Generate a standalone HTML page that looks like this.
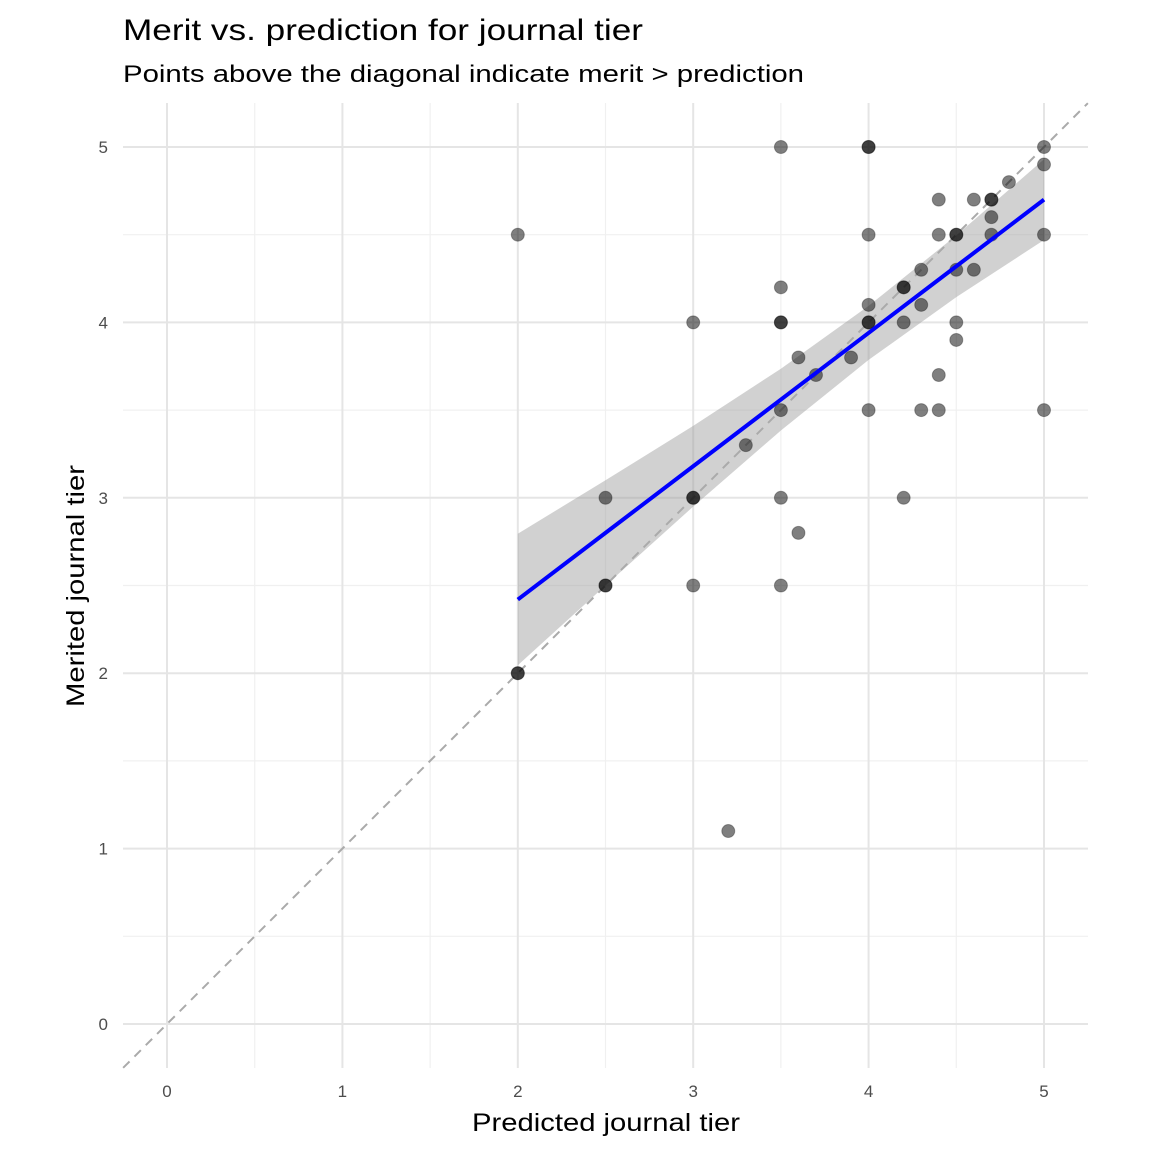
<!DOCTYPE html>
<html><head><meta charset="utf-8"><style>
body{margin:0;background:#fff;}
svg text{font-family:"Liberation Sans",Arial,sans-serif;}
</style></head><body>
<svg id="chart" width="1152" height="1152" xmlns="http://www.w3.org/2000/svg">
<rect width="1152" height="1152" fill="#fff"/>
<text x="123" y="40" font-size="30" fill="#000" textLength="520" lengthAdjust="spacingAndGlyphs">Merit vs. prediction for journal tier</text>
<text x="123" y="82" font-size="24" fill="#000" textLength="681" lengthAdjust="spacingAndGlyphs">Points above the diagonal indicate merit &gt; prediction</text>
<g id="grid"></g><g id="band"></g><g id="diag"></g><g id="pts"></g><g id="fit"></g><g id="ticks"></g>
<text x="472" y="1131" font-size="25" fill="#000" textLength="268" lengthAdjust="spacingAndGlyphs">Predicted journal tier</text>
<text transform="translate(84,707) rotate(-90)" font-size="25" fill="#000" textLength="242" lengthAdjust="spacingAndGlyphs">Merited journal tier</text>
</svg>
<script>
const predicted=[2,2,2,2.5,2.5,2.5,3,3,3,3,3.2,3.3,3.5,3.5,3.5,3.5,3.5,3.5,3.5,3.6,3.6,3.7,3.9,4,4,4,4,4,4,4,4.2,4.2,4.2,4.2,4.3,4.3,4.3,4.4,4.4,4.4,4.4,4.5,4.5,4.5,4.5,4.5,4.6,4.6,4.7,4.7,4.7,4.7,4.8,5,5,5,5];
const merited=[4.5,2,2,3,2.5,2.5,4,3,3,2.5,1.1,3.3,5,4.2,4,4,3.5,3,2.5,3.8,2.8,3.7,3.8,5,5,4.5,4.1,4,4,3.5,4.2,4.2,4,3,4.3,4.1,3.5,4.7,4.5,3.7,3.5,4.5,4.5,4.3,4,3.9,4.7,4.3,4.7,4.7,4.6,4.5,4.8,5,4.9,4.5,3.5];
const fitX=[2,2.5,3,3.5,4,4.5,5];
const fitY=[2.42,2.80,3.18,3.56,3.94,4.32,4.70];
const bandLo=[2.045,2.50,2.95,3.384,3.786,4.144,4.47];
const bandHi=[2.795,3.10,3.41,3.736,4.094,4.496,4.93];
const ticks=[0,1,2,3,4,5];
const ticksLabels=["0","1","2","3","4","5"];
const minor=[0.5,1.5,2.5,3.5,4.5];
const NS="http://www.w3.org/2000/svg";
const sx=v=>167+v*175.4, sy=v=>1024-v*175.4;
const L=123,R=1088,T=103,B=1068;
function mk(tag,attrs,parent){const e=document.createElementNS(NS,tag);for(const k in attrs)e.setAttribute(k,attrs[k]);document.getElementById(parent).appendChild(e);return e;}
minor.forEach(v=>{
 let a=mk('line',{x1:sx(v),x2:sx(v),y1:T,y2:B,stroke:'#f0f0f0','stroke-width':1.2},'grid');
 
 let b=mk('line',{x1:L,x2:R,y1:sy(v),y2:sy(v),stroke:'#f0f0f0','stroke-width':1.2},'grid');
 
});
ticks.forEach((v,i)=>{
 let a=mk('line',{x1:sx(v),x2:sx(v),y1:T,y2:B,stroke:'#e5e5e5','stroke-width':2},'grid');
 
 let b=mk('line',{x1:L,x2:R,y1:sy(v),y2:sy(v),stroke:'#e5e5e5','stroke-width':2},'grid');
 
 let tx=mk('text',{x:sx(v),y:1097,'font-size':17,fill:'#4d4d4d','text-anchor':'middle'},'ticks');tx.textContent=ticksLabels[i];
 
 let ty=mk('text',{x:108,y:sy(v)+6,'font-size':17,fill:'#4d4d4d','text-anchor':'end'},'ticks');ty.textContent=ticksLabels[i];
 
});
let pts=fitX.map((x,i)=>sx(x)+','+sy(bandHi[i])).concat(fitX.map((x,i)=>sx(x)+','+sy(bandLo[i])).reverse()).join(' ');
let band=mk('polygon',{points:pts,fill:'#999',opacity:0.45},'band');

let d=mk('line',{x1:sx(-0.25),y1:sy(-0.25),x2:sx(5.25),y2:sy(5.25),stroke:'#aaa','stroke-width':2,'stroke-dasharray':'9,7'},'diag');

predicted.forEach((x,i)=>{
 let c=mk('circle',{cx:sx(x),cy:sy(merited[i]),r:6.5,fill:'#000','fill-opacity':0.5,stroke:'#000','stroke-opacity':0.3,'stroke-width':1},'pts');
 
});
let f=mk('polyline',{points:fitX.map((x,i)=>sx(x)+','+sy(fitY[i])).join(' '),fill:'none',stroke:'#0000ff','stroke-width':4},'fit');

</script>
</body></html>
